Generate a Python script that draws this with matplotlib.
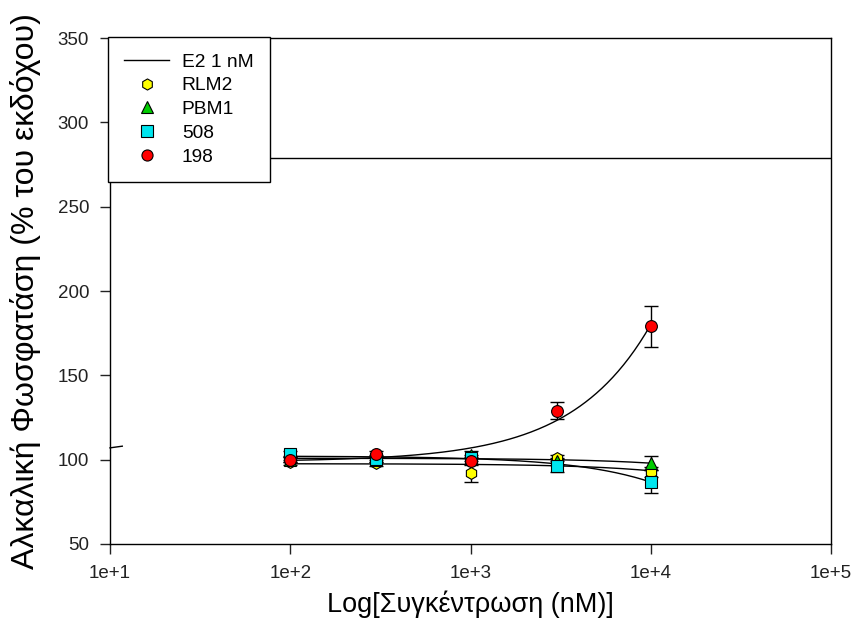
import numpy as np
import matplotlib.pyplot as plt
from matplotlib.lines import Line2D

plt.rcParams['font.family'] = ['Liberation Sans', 'DejaVu Sans']

# data
conc = [1e2, 3e2, 1e3, 3e3, 1e4]
e2_level = 279

series_names = ["RLM2", "PBM1", "508", "198"]
rlm2 = [98.5, 98.0, 92.0, 101.0, 92.5]
rlm2_err = [1.5, 2.0, 5.0, 2.0, 3.0]
pbm1 = [100.0, 100.0, 103.0, 99.0, 98.0]
pbm1_err = [1.5, 1.5, 2.0, 2.0, 4.0]
s508 = [103.5, 100.5, 101.0, 96.5, 87.0]
s508_err = [1.5, 2.0, 2.0, 4.0, 7.0]
s198 = [100.0, 103.5, 99.5, 129.0, 179.0]
s198_err = [1.5, 1.5, 2.0, 5.0, 12.0]

values = [rlm2, pbm1, s508, s198]
errors = [rlm2_err, pbm1_err, s508_err, s198_err]
markers = ["h", "^", "s", "o"]
colors = ["#ffff00", "#00cc00", "#00e5ee", "#ff0000"]

fig = plt.figure(figsize=(8.56, 6.37), dpi=100)
ax = fig.add_axes([0.1285, 0.146, 0.8423, 0.7943])

ax.axhline(e2_level, color="black", lw=1.0, zorder=1)
ax.plot([1e1, 1.17e1], [107, 108], color="black", lw=1.0, clip_on=False)

x = np.array(conc)
xs = np.logspace(2, 4, 200)
for vals, errs, m, c in zip(values, errors, markers, colors):
    # simple linear fit in concentration, drawn on the log axis
    k, b = np.polyfit(x, vals, 1)
    ax.plot(xs, k * xs + b, color="black", lw=1.0, zorder=2)
    ax.errorbar(x, vals, yerr=errs, fmt="none", ecolor="black", elinewidth=1.0,
                capsize=5, capthick=1.0, zorder=3)
    ax.plot(x, vals, linestyle="none", marker=m, markersize=8.5, markerfacecolor=c,
            markeredgecolor="black", markeredgewidth=0.8, zorder=4)

ax.set_xscale("log")
ax.set_xlim(1e1, 1e5)
ax.set_ylim(50, 350)
ax.set_xticks([1e1, 1e2, 1e3, 1e4, 1e5])
ax.set_xticklabels(["1e+1", "1e+2", "1e+3", "1e+4", "1e+5"])
ax.xaxis.set_minor_locator(plt.NullLocator())
ax.set_yticks([50, 100, 150, 200, 250, 300, 350])
ax.tick_params(axis="both", direction="out", length=7, width=1.0, labelsize=13.5,
               pad=8, top=False, right=False, colors="#222222")
for sp in ax.spines.values():
    sp.set_linewidth(1.0)

ax.set_xlabel("Log[Συγκέντρωση (nM)]", fontsize=19.5, labelpad=6)
ax.set_ylabel("Αλκαλική Φωσφατάση (% του εκδόχου)", fontsize=23, labelpad=12)

handles = [Line2D([], [], color="black", lw=1.0)]
for m, c in zip(markers, colors):
    handles.append(Line2D([], [], linestyle="none", marker=m, markersize=8,
                          markerfacecolor=c, markeredgecolor="black",
                          markeredgewidth=0.8))
leg = ax.legend(handles, ["E2 1 nM"] + series_names, loc="upper left",
                bbox_to_anchor=(108 / 856, 1 - 37 / 637),
                bbox_transform=fig.transFigure, fontsize=13.8, frameon=True,
                fancybox=False, edgecolor="black", framealpha=1,
                handlelength=2.35, borderpad=0.85, labelspacing=0.33,
                handletextpad=0.65, borderaxespad=0)
leg.get_frame().set_linewidth(1.0)

fig.savefig("out.png", dpi=100)
